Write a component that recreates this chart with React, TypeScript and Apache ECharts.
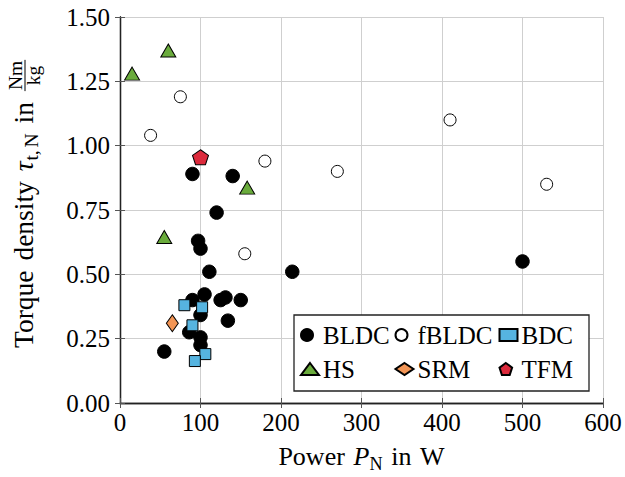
import React, { useEffect, useRef } from "react";
import * as echarts from "echarts";

const FONT = "Liberation Serif, serif";

// Power P_N in W, torque density in Nm/kg
const bldcData: [number, number][] = [
  [55, 0.2], [86, 0.275], [90, 0.4], [90, 0.89], [97, 0.63], [100, 0.6],
  [100, 0.342], [100, 0.255], [100, 0.225], [105, 0.422], [111, 0.51],
  [120, 0.74], [125, 0.4], [131, 0.41], [134, 0.32], [140, 0.882],
  [150, 0.4], [214, 0.51], [500, 0.55],
];
const fbldcData: [number, number][] = [
  [38, 1.04], [75, 1.19], [155, 0.58], [180, 0.94], [270, 0.9], [410, 1.1], [530, 0.85],
];
const bdcData: [number, number][] = [
  [80, 0.38], [102, 0.372], [90, 0.302], [106, 0.19], [93, 0.163],
];
const hsData: [number, number][] = [
  [60, 1.37], [15, 1.28], [55, 0.645], [158, 0.837],
];
const srmData: [number, number][] = [[65, 0.31]];
const tfmData: [number, number][] = [[100, 0.955]];

const xTickValues = [0, 100, 200, 300, 400, 500, 600];
const yTickValues = [0, 0.25, 0.5, 0.75, 1.0, 1.25, 1.5];
const yTickLabels = ["0.00", "0.25", "0.50", "0.75", "1.00", "1.25", "1.50"];

// legend layout: [series name, column, row]
const legendItems: [string, number, number][] = [
  ["BLDC", 0, 0], ["fBLDC", 1, 0], ["BDC", 2, 0],
  ["HS", 0, 1], ["SRM", 1, 1], ["TFM", 2, 1],
];
const legendColX = [309, 403.5, 507.5];
const legendRowY = [334, 368];

const PENTAGON = "path://M0,-1L0.951,-0.309L0.588,0.809L-0.588,0.809L-0.951,-0.309Z";

let ctx: CanvasRenderingContext2D | null = null;
function measure(text: string, size: number, italic = false): number {
  if (!ctx) ctx = document.createElement("canvas").getContext("2d");
  if (!ctx) return text.length * size * 0.5;
  ctx.font = `${italic ? "italic " : ""}${size}px ${FONT}`;
  return ctx.measureText(text).width;
}

const CENTRAL = 0.33;

type Piece = { text?: string; size: number; italic?: boolean; dy?: number; gap?: number };

function textEl(text: string, x: number, baseline: number, size: number, italic: boolean, align = "left") {
  return {
    type: "text",
    x,
    y: baseline - CENTRAL * size,
    z: 10,
    style: {
      text,
      font: `${italic ? "italic " : ""}${size}px ${FONT}`,
      fontSize: size,
      fontFamily: FONT,
      fontStyle: italic ? "italic" : "normal",
      fill: "#000",
      align,
      verticalAlign: "middle",
    },
  };
}

function layout(pieces: Piece[]) {
  const children: any[] = [];
  let x = 0;
  for (const p of pieces) {
    if (p.gap) {
      x += p.gap * p.size;
      continue;
    }
    const t = p.text || "";
    children.push(textEl(t, x, p.dy || 0, p.size, !!p.italic));
    x += measure(t, p.size, !!p.italic);
  }
  return { children, width: x };
}

export default function App() {
  const ref = useRef<HTMLDivElement>(null);
  useEffect(() => {
    if (!ref.current) return;
    const chart = echarts.init(ref.current, undefined, { renderer: "svg" });

    const axisLine = { show: true, lineStyle: { color: "#222", width: 1.3 } };
    const axisTick = { show: true, inside: true, length: 5, lineStyle: { color: "#555", width: 1 } };
    const common = { type: "scatter", xAxisIndex: 0, yAxisIndex: 0 };

    chart.setOption({
      animation: false,
      backgroundColor: "#fff",
      grid: { left: 120, right: 22, top: 17, bottom: 74, containLabel: false },
      xAxis: [
        {
          type: "value", min: 0, max: 600, interval: 100, position: "bottom",
          axisLine, axisTick, axisLabel: { show: false },
          splitLine: { show: true, lineStyle: { color: "#cfcfcf", width: 1 } },
        },
        {
          type: "value", min: 0, max: 600, interval: 100, position: "top",
          axisLine, axisTick, axisLabel: { show: false }, splitLine: { show: false },
        },
      ],
      yAxis: [
        {
          type: "value", min: 0, max: 1.5, interval: 0.25, position: "left",
          axisLine, axisTick, axisLabel: { show: false },
          splitLine: { show: true, lineStyle: { color: "#cfcfcf", width: 1 } },
        },
        {
          type: "value", min: 0, max: 1.5, interval: 0.25, position: "right",
          axisLine, axisTick, axisLabel: { show: false }, splitLine: { show: false },
        },
      ],
      legend: legendItems.map(([name, c, r]) => ({
        data: [name],
        left: legendColX[c] - 9,
        top: legendRowY[r] - 6,
        orient: "vertical",
        itemWidth: 18,
        itemHeight: 12,
        padding: 0,
        selectedMode: false,
        formatter: () => "",
        textStyle: { fontSize: 12, lineHeight: 12 },
      })),
      series: [
        {
          ...common, name: "BLDC", data: bldcData, symbol: "circle", symbolSize: 13.5,
          itemStyle: { color: "#000", borderColor: "#000", borderWidth: 1, opacity: 1 },
        },
        {
          ...common, name: "fBLDC", data: fbldcData, symbol: "circle", symbolSize: 12,
          itemStyle: { color: "#fff", borderColor: "#000", borderWidth: 1, opacity: 1 },
        },
        {
          ...common, name: "BDC", data: bdcData, symbol: "rect", symbolSize: 11,
          itemStyle: { color: "#56b4e0", borderColor: "#000", borderWidth: 1, opacity: 1 },
        },
        {
          ...common, name: "HS", data: hsData, symbol: "triangle", symbolSize: [15, 13],
          itemStyle: { color: "#6aab3c", borderColor: "#000", borderWidth: 1, opacity: 1 },
        },
        {
          ...common, name: "SRM", data: srmData, symbol: "diamond", symbolSize: [12, 17],
          itemStyle: { color: "#f29555", borderColor: "#000", borderWidth: 1, opacity: 1 },
        },
        {
          ...common, name: "TFM", data: tfmData, symbol: PENTAGON, symbolSize: [16, 15],
          itemStyle: { color: "#dc2a3c", borderColor: "#000", borderWidth: 1, opacity: 1 },
        },
      ],
    });

    const NS = 26;
    const SS = 18.2;
    const YS = 27.5;
    const YSS = 19.5;

    const xName = layout([
      { text: "Power", size: NS },
      { gap: 0.333, size: NS },
      { text: "P", size: NS, italic: true },
      { text: "N", size: SS, dy: 5 },
      { gap: 0.333, size: NS },
      { text: "in", size: NS },
      { gap: 0.333, size: NS },
      { text: "W", size: NS },
    ]);

    const yMain = layout([
      { text: "Torque", size: YS },
      { gap: 0.36, size: YS },
      { text: "density", size: YS },
      { gap: 0.36, size: YS },
      { text: "τ", size: YS, italic: true },
      { gap: 0.03, size: YS },
      { text: "t,", size: YSS, dy: 5 },
      { gap: 0.15, size: YSS },
      { text: "N", size: YSS, dy: 5 },
      { gap: 0.36, size: YS },
      { text: "in", size: YS },
      { gap: 0.36, size: YS },
    ]);
    const fx = yMain.width + 1;
    const fw = Math.max(measure("Nm", YSS), measure("kg", YSS)) + 2;
    const barY = -8;
    const yChildren = [
      ...yMain.children,
      textEl("Nm", fx + fw / 2, barY - 3.5, YSS, false, "center"),
      textEl("kg", fx + fw / 2, barY + 14.5, YSS, false, "center"),
      {
        type: "line",
        shape: { x1: fx, y1: barY, x2: fx + fw, y2: barY },
        style: { stroke: "#000", lineWidth: 1 },
      },
    ];

    const bottomY = chart.convertToPixel({ yAxisIndex: 0 }, 0) as number;
    const leftX = chart.convertToPixel({ xAxisIndex: 0 }, 0) as number;

    const tickTexts: any[] = [];
    xTickValues.forEach((v) => {
      const px = chart.convertToPixel({ xAxisIndex: 0 }, v) as number;
      tickTexts.push(textEl(String(v), px, bottomY + 27.5, 25, false, "center"));
    });
    yTickValues.forEach((v, i) => {
      const py = chart.convertToPixel({ yAxisIndex: 0 }, v) as number;
      tickTexts.push(textEl(yTickLabels[i], leftX - 10, py + 8.5, 25, false, "right"));
    });

    const legendTexts = legendItems.map(([name, c, r]) =>
      textEl(name, legendColX[c] + 14, legendRowY[r] + 9.5, 25, false, "left")
    );

    chart.setOption({
      graphic: [
        {
          type: "rect",
          z: 3,
          shape: { x: 294, y: 315, width: 295, height: 76 },
          style: { fill: "#fff", stroke: "#222", lineWidth: 1.3 },
        },
        { type: "group", x: 361.5 - xName.width / 2, y: 465, children: xName.children },
        { type: "group", x: 33, y: 348, rotation: Math.PI / 2, children: yChildren },
        ...tickTexts,
        ...legendTexts,
      ],
    });

    return () => chart.dispose();
  }, []);
  return (
    <div
      ref={ref}
      style={{ position: "fixed", left: 0, top: 0, width: 625, height: 477 }}
    />
  );
}
